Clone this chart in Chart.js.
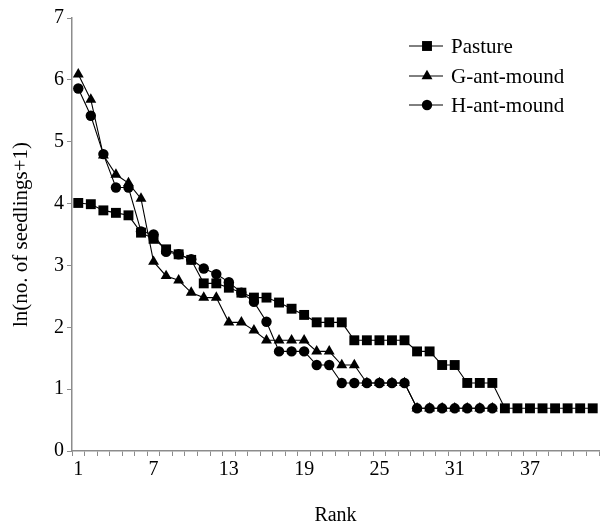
<!DOCTYPE html>
<html>
<head>
<meta charset="utf-8">
<script src="https://cdn.jsdelivr.net/npm/chart.js@4.4.1/dist/chart.umd.min.js"></script>
<style>
    html, body { margin: 0; padding: 0; background: #fff; }
    #wrap { width: 606px; height: 528px; }
</style>
</head>
<body>
<div id="wrap"><canvas id="ranks"></canvas></div>
<script>
// Rank categories
const ranks = [1, 2, 3, 4, 5, 6, 7, 8, 9, 10, 11, 12, 13, 14, 15, 16, 17, 18, 19, 20, 21,
    22, 23, 24, 25, 26, 27, 28, 29, 30, 31, 32, 33, 34, 35, 36, 37, 38, 39, 40, 41, 42];
// Rank labels shown under the x axis
const rankTicks = ['1', '7', '13', '19', '25', '31', '37'];
// Y axis ticks
const yTicks = [0, 1, 2, 3, 4, 5, 6, 7];

// ln(no. of seedlings+1) per series
const pasture = [4.01, 3.99, 3.89, 3.85, 3.81, 3.53, 3.43, 3.26, 3.18, 3.09, 2.71, 2.71, 2.64, 2.56,
    2.48, 2.48, 2.40, 2.30, 2.20, 2.08, 2.08, 2.08, 1.79, 1.79, 1.79, 1.79, 1.79, 1.61, 1.61,
    1.39, 1.39, 1.10, 1.10, 1.10, 0.69, 0.69, 0.69, 0.69, 0.69, 0.69, 0.69, 0.69];
const gMound = [6.09, 5.68, 4.78, 4.47, 4.33, 4.08, 3.06, 2.83, 2.76, 2.56, 2.48, 2.48, 2.08, 2.08,
    1.95, 1.79, 1.79, 1.79, 1.79, 1.61, 1.61, 1.39, 1.39, 1.10, 1.10, 1.10, 1.10,
    0.69, 0.69, 0.69, 0.69, 0.69, 0.69, 0.69];
const hMound = [5.86, 5.42, 4.80, 4.26, 4.26, 3.55, 3.50, 3.22, 3.18, 3.10, 2.95, 2.86, 2.73, 2.56,
    2.41, 2.09, 1.61, 1.61, 1.61, 1.39, 1.39, 1.10, 1.10, 1.10, 1.10, 1.10, 1.10,
    0.69, 0.69, 0.69, 0.69, 0.69, 0.69, 0.69];

const FONT = '"Liberation Serif", "Times New Roman", serif';
const AXIS = '#8c8c8c';

// legend drawn inside the plot: line + marker + name
const insideLegend = {
    id: 'insideLegend',
    afterDraw(chart) {
        const ctx = chart.ctx;
        const x0 = 409, x1 = 443, tx = 451;
        const rows = [46, 76, 105];
        const sets = chart.data.datasets;
        ctx.save();
        sets.forEach((ds, i) => {
            const y = rows[i];
            ctx.strokeStyle = '#000';
            ctx.lineWidth = 1;
            ctx.beginPath();
            ctx.moveTo(x0, y);
            ctx.lineTo(x1, y);
            ctx.stroke();
            ctx.fillStyle = '#000';
            Chart.helpers.drawPoint(ctx, {
                pointStyle: ds.pointStyle,
                radius: ds.pointRadius,
                borderWidth: 0
            }, 427, y);
            ctx.fillStyle = '#000';
            ctx.font = '21px ' + FONT;
            ctx.textBaseline = 'middle';
            ctx.textAlign = 'left';
            ctx.fillText(ds.label, tx, y + 1);
        });
        ctx.restore();
    }
};

const line = (label, data, style, radius, order) => ({
    label: label,
    data: data,
    borderColor: '#000',
    backgroundColor: '#000',
    borderWidth: 1.1,
    pointStyle: style,
    pointRadius: radius,
    pointHoverRadius: radius,
    pointBorderWidth: 0,
    pointBackgroundColor: '#000',
    tension: 0,
    order: order
});

new Chart(document.getElementById('ranks'), {
    type: 'line',
    data: {
        labels: ranks,
        datasets: [
            line('Pasture', pasture, 'rect', 7, 2),
            line('G-ant-mound', gMound, 'triangle', 6.3, 1),
            line('H-ant-mound', hMound, 'circle', 5.2, 0)
        ]
    },
    options: {
        responsive: true,
        maintainAspectRatio: false,
        animation: false,
        layout: { padding: { top: 18, right: 6, left: 0, bottom: 0 } },
        plugins: {
            legend: { display: false },
            tooltip: { enabled: false }
        },
        scales: {
            x: {
                type: 'category',
                offset: true,
                grid: {
                    offset: true,
                    drawOnChartArea: false,
                    drawTicks: true,
                    tickLength: 5,
                    color: AXIS,
                    lineWidth: 1
                },
                border: { color: AXIS, width: 1.5 },
                ticks: {
                    autoSkip: false,
                    maxRotation: 0,
                    padding: 2,
                    color: '#000',
                    font: { family: FONT, size: 20 },
                    callback: function (value) {
                        const lab = String(this.getLabelForValue(value));
                        return rankTicks.includes(lab) ? lab : '';
                    }
                },
                title: {
                    display: true,
                    text: 'Rank',
                    color: '#000',
                    font: { family: FONT, size: 20 },
                    padding: { top: 0, bottom: 0 }
                },
                afterFit: (scale) => { scale.height = 77; }
            },
            y: {
                min: yTicks[0],
                max: yTicks[yTicks.length - 1],
                grid: {
                    drawOnChartArea: false,
                    drawTicks: true,
                    tickLength: 5,
                    color: AXIS
                },
                border: { color: AXIS, width: 1.5 },
                ticks: {
                    stepSize: 1,
                    padding: 3,
                    color: '#000',
                    font: { family: FONT, size: 20 }
                },
                title: {
                    display: true,
                    text: 'ln(no. of seedlings+1)',
                    color: '#000',
                    font: { family: FONT, size: 21 },
                    padding: { top: 9, bottom: 0 }
                },
                afterFit: (scale) => { scale.width = 72; }
            }
        }
    },
    plugins: [insideLegend]
});
</script>
</body>
</html>
